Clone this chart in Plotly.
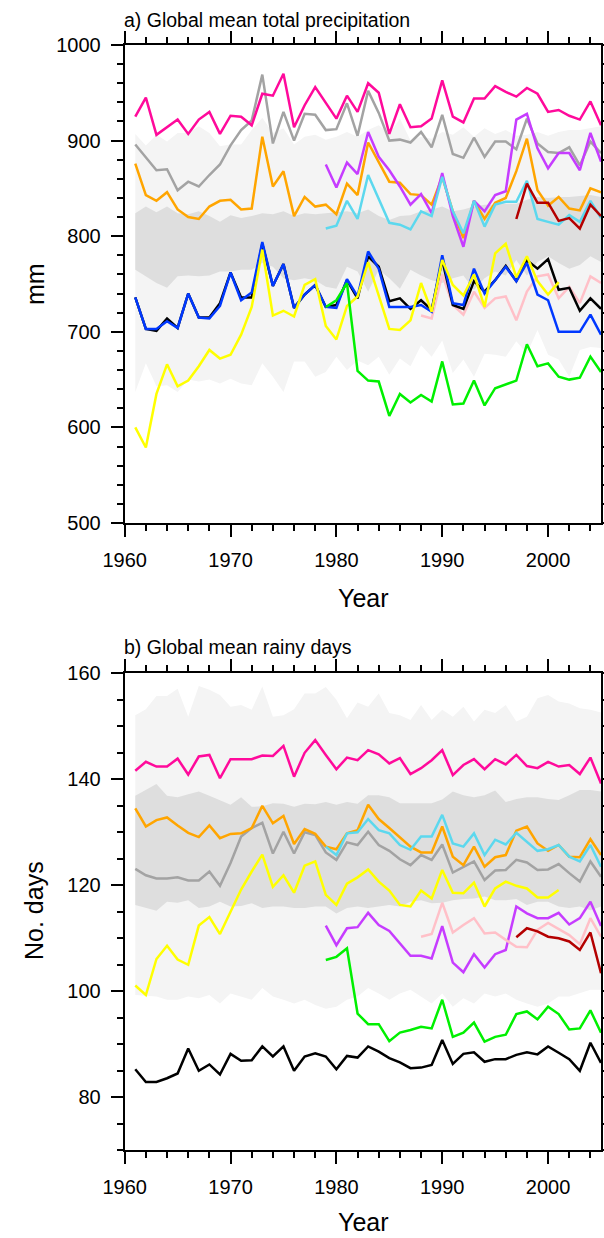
import plotly.graph_objects as go

years = list(range(1961, 2006))
yrs79 = list(range(1979, 2006))
yrs88 = list(range(1988, 2006))
yrs97 = list(range(1997, 2006))
yrs_to01 = list(range(1961, 2002))

# ---------------- Panel a: total precipitation (mm) ----------------
a_magenta = [925, 945, 906, 914, 922, 907, 922, 930, 907, 926, 925, 916, 949, 947, 970, 914, 937, 956, 940, 923,
             947, 930, 960, 950, 907, 938, 914, 915, 923, 963, 925, 919, 944, 944, 957, 951, 946, 955, 949, 930,
             932, 926, 922, 941, 916]
a_gray = [896, 882, 869, 870, 848, 857, 852, 864, 875, 895, 911, 921, 969, 897, 930, 900, 928, 927, 911, 912,
          939, 905, 952, 929, 900, 901, 898, 909, 893, 927, 886, 882, 903, 883, 899, 899, 891, 923, 897, 888,
          887, 893, 874, 899, 887]
a_orange = [876, 843, 837, 846, 828, 820, 818, 831, 837, 838, 828, 829, 904, 852, 868, 821, 841, 831, 833, 823,
            855, 843, 898, 878, 857, 856, 844, 843, 833, 862, 826, 798, 837, 818, 835, 840, 868, 902, 848, 832,
            841, 829, 827, 850, 846]
a_purple = [875, 851, 877, 865, 909, 883, 869, 852, 833, 844, 824, 866, 821, 789, 837, 826, 843, 847, 922, 928,
            892, 871, 887, 887, 869, 908, 878]
a_cyan = [808, 811, 837, 818, 864, 838, 814, 812, 807, 826, 821, 862, 826, 803, 837, 810, 833, 836, 836, 858,
          818, 815, 812, 822, 815, 837, 819]
a_darkred = [818, 855, 835, 835, 816, 819, 808, 833, 821]
a_black = [736, 703, 701, 714, 704, 740, 715, 715, 730, 762, 736, 736, 792, 748, 771, 725, 739, 749, 726, 728,
           754, 735, 779, 768, 732, 735, 724, 733, 723, 775, 728, 724, 753, 742, 754, 769, 753, 775, 766, 776,
           744, 746, 722, 735, 724]
a_blue = [736, 703, 703, 711, 704, 740, 715, 714, 727, 762, 733, 741, 794, 748, 771, 725, 739, 749, 726, 725,
          755, 737, 784, 766, 726, 726, 726, 728, 721, 780, 730, 728, 766, 740, 754, 768, 753, 772, 739, 733,
          700, 700, 700, 718, 697]
a_yellow = [600, 579, 635, 666, 643, 649, 664, 681, 672, 676, 697, 726, 786, 717, 722, 716, 749, 755, 706, 692,
            727, 737, 773, 737, 703, 702, 712, 751, 721, 775, 749, 738, 760, 726, 782, 792, 757, 779, 753, 739,
            752]
a_green = [726, 733, 751, 659, 649, 648, 612, 635, 626, 634, 627, 669, 624, 625, 649, 623, 641, 645, 649, 687,
           664, 667, 653, 650, 652, 674, 658]
a_pink = [717, 714, 760, 728, 718, 742, 725, 735, 737, 712, 742, 758, 760, 735, 747, 730, 758, 751]

# spread bands (mm)
a_light_hi = [907, 895, 906, 899, 908, 908, 915, 908, 894, 896, 896, 911, 924, 908, 913, 896, 904, 906, 901, 904,
              909, 904, 911, 916, 907, 923, 900, 904, 902, 909, 906, 914, 904, 913, 907, 911, 905, 906, 909, 905,
              909, 911, 911, 913, 915]
a_light_lo = [637, 667, 643, 644, 637, 650, 648, 650, 646, 651, 646, 644, 667, 653, 637, 669, 669, 653, 658, 674,
              660, 670, 665, 674, 655, 672, 664, 686, 674, 691, 657, 671, 653, 677, 676, 674, 690, 677, 702, 676,
              671, 653, 681, 684, 683]
a_dark_hi = [824, 831, 825, 831, 824, 823, 826, 821, 815, 822, 819, 821, 824, 823, 826, 821, 824, 823, 824, 825,
             826, 824, 828, 821, 817, 821, 822, 826, 828, 831, 826, 828, 831, 833, 833, 834, 834, 838, 841, 840,
             841, 841, 842, 843, 841]
a_dark_lo = [765, 758, 751, 746, 758, 759, 758, 759, 763, 763, 765, 765, 772, 768, 756, 754, 756, 754, 747, 745,
             768, 763, 742, 765, 756, 745, 765, 759, 754, 751, 756, 759, 744, 756, 763, 759, 775, 759, 773, 779,
             772, 766, 770, 779, 773]

# ---------------- Panel b: rainy days ----------------
b_magenta = [141.6, 143.3, 142.4, 142.4, 143.9, 140.9, 144.3, 144.6, 140.2, 143.8, 143.8, 143.8, 144.5, 144.4, 146.3,
             140.5, 145.0, 147.4, 144.6, 141.9, 144.1, 143.6, 145.5, 144.7, 143.0, 144.0, 141.0, 142.1, 143.6, 145.5,
             140.8, 142.7, 143.8, 141.9, 143.8, 142.8, 144.6, 142.5, 142.1, 143.3, 142.4, 142.7, 141.0, 144.1, 139.2]
b_orange = [134.5, 131.1, 132.3, 132.8, 131.3, 129.9, 129.1, 131.3, 128.9, 129.7, 129.8, 130.8, 135.0, 131.7, 133.1,
            127.8, 130.6, 129.7, 127.3, 126.8, 129.8, 130.4, 135.2, 132.5, 130.8, 129.0, 127.3, 126.2, 126.2, 131.1,
            125.4, 123.8, 127.3, 123.5, 125.3, 125.7, 130.3, 131.1, 127.9, 126.5, 127.6, 125.4, 125.3, 128.7, 125.7]
b_cyan = [127.3, 125.7, 129.8, 130.0, 132.5, 130.4, 129.8, 127.6, 126.7, 129.2, 129.2, 133.3, 127.9, 127.3, 129.8,
          125.7, 128.6, 127.7, 129.9, 128.2, 126.5, 126.8, 127.6, 125.4, 124.5, 127.6, 123.5]
b_gray = [123.1, 121.9, 121.3, 121.3, 121.5, 120.9, 120.9, 122.6, 119.9, 124.2, 129.2, 130.8, 131.8, 126.0, 130.1,
          126.0, 130.0, 129.5, 126.2, 124.8, 128.1, 127.6, 130.1, 127.6, 126.5, 124.9, 123.8, 125.7, 124.8, 127.7,
          122.4, 123.5, 124.5, 121.0, 122.8, 122.9, 124.8, 124.3, 122.9, 123.0, 124.0, 122.3, 120.7, 124.5, 121.6]
b_yellow = [101.1, 99.3, 106.1, 108.6, 106.0, 105.0, 112.4, 114.0, 110.8, 115.0, 119.2, 122.6, 125.8, 119.7, 121.9,
            118.6, 123.7, 124.5, 118.2, 116.3, 120.3, 121.5, 123.0, 120.7, 119.0, 116.3, 116.0, 119.0, 117.5, 122.9,
            118.6, 118.5, 120.5, 116.0, 119.4, 120.7, 119.9, 119.4, 117.7, 117.7, 119.1]
b_purple = [112.4, 108.7, 111.9, 112.1, 114.8, 112.5, 111.4, 109.0, 106.7, 106.7, 106.2, 112.3, 105.4, 103.6, 107.0,
            104.5, 107.0, 107.8, 116.0, 114.7, 113.8, 113.8, 114.8, 112.6, 113.8, 116.9, 112.3]
b_green = [105.9, 106.5, 108.1, 95.8, 93.8, 93.8, 90.6, 92.2, 92.7, 93.3, 93.0, 98.4, 91.4, 92.2, 94.1, 90.5, 91.4,
           91.8, 95.7, 96.2, 94.7, 97.1, 95.7, 92.8, 93.0, 96.4, 92.2]
b_pink = [110.3, 110.8, 116.7, 111.1, 112.5, 113.8, 110.9, 111.1, 109.7, 108.4, 108.3, 111.6, 112.9, 111.7, 110.6,
          108.9, 113.8, 110.3]
b_darkred = [110.2, 111.9, 111.3, 110.3, 110.0, 109.4, 107.8, 111.1, 103.4]
b_black = [85.3, 82.9, 82.9, 83.6, 84.5, 89.2, 85.0, 86.2, 84.3, 88.2, 86.9, 87.0, 89.6, 87.7, 89.6, 85.0, 87.7, 88.3,
           87.7, 85.3, 87.8, 87.5, 89.6, 88.6, 87.4, 86.6, 85.5, 85.6, 86.1, 90.8, 86.3, 88.2, 88.5, 86.7, 87.2, 87.2,
           88.0, 88.5, 88.1, 89.6, 88.4, 87.2, 85.0, 90.3, 86.5]

# spread bands (days)
b_light_hi = [152.1, 153.2, 155.7, 155.7, 157.1, 151.8, 157.6, 156.9, 155.9, 153.7, 154.0, 153.1, 157.5, 151.8,
              152.1, 153.2, 156.2, 156.2, 157.4, 155.0, 151.5, 154.5, 153.7, 156.2, 152.5, 152.1, 151.2, 154.0,
              151.2, 153.1, 151.8, 153.7, 150.9, 153.1, 152.5, 154.0, 150.9, 151.8, 155.3, 155.9, 154.7, 154.3,
              153.4, 153.1, 152.6]
b_dark_hi = [136.9, 138.0, 139.1, 136.9, 136.6, 137.2, 137.7, 136.9, 136.1, 135.2, 136.6, 134.8, 134.9, 135.5, 135.4,
             134.8, 135.4, 135.3, 135.7, 135.2, 135.7, 135.4, 137.0, 137.0, 136.6, 135.5, 135.5, 135.5, 135.5, 136.2,
             137.7, 137.0, 136.6, 137.0, 137.9, 135.7, 136.3, 136.6, 136.6, 136.3, 136.1, 137.0, 138.0, 138.0, 137.7]
b_dark_lo = [116.3, 115.7, 115.2, 116.9, 116.7, 117.2, 115.7, 116.0, 116.9, 116.0, 116.1, 116.6, 115.7, 116.0, 116.0,
             115.7, 115.7, 116.0, 116.0, 114.7, 115.7, 116.0, 115.7, 116.0, 116.3, 116.0, 116.9, 117.2, 116.6, 116.7,
             117.2, 117.4, 117.5, 117.9, 117.2, 117.2, 117.4, 116.3, 116.9, 116.9, 116.0, 115.7, 116.0, 115.3, 116.0]
b_light_lo = [99.3, 99.1, 99.0, 98.4, 98.4, 99.0, 98.7, 99.3, 97.7, 99.6, 99.0, 98.4, 100.6, 99.0, 98.4, 97.7, 98.4,
              97.4, 96.7, 97.1, 98.4, 99.0, 100.6, 99.6, 98.4, 99.6, 100.3, 99.0, 97.7, 99.6, 97.1, 98.7, 97.7, 99.6,
              99.0, 99.6, 98.4, 97.7, 97.1, 97.7, 99.0, 99.0, 99.6, 100.3, 100.3]

C_MAGENTA = "#FF0A9B"
C_GRAY = "#A3A3A3"
C_ORANGE = "#FFA500"
C_PURPLE = "#C63CFF"
C_CYAN = "#5CD8EE"
C_DARKRED = "#B40000"
C_BLACK = "#000000"
C_BLUE = "#0038FF"
C_YELLOW = "#FFFF00"
C_GREEN = "#00F000"
C_PINK = "#FFC0C8"
C_LIGHT = "#F4F4F4"
C_DARK = "#DEDEDE"

fig = go.Figure()


def band(x, lo, hi, color, xa, ya):
    fig.add_trace(go.Scatter(x=x, y=lo, mode="lines", line=dict(width=0, color=color),
                             xaxis=xa, yaxis=ya, showlegend=False, hoverinfo="skip"))
    fig.add_trace(go.Scatter(x=x, y=hi, mode="lines", line=dict(width=0, color=color), fill="tonexty",
                             fillcolor=color, xaxis=xa, yaxis=ya, showlegend=False, hoverinfo="skip"))


def line(x, y, color, xa, ya):
    fig.add_trace(go.Scatter(x=x, y=y, mode="lines", line=dict(color=color, width=2.5),
                             xaxis=xa, yaxis=ya, showlegend=False))


# Panel a
band(years, a_light_lo, a_light_hi, C_LIGHT, "x", "y")
band(years, a_dark_lo, a_dark_hi, C_DARK, "x", "y")
line(years, a_gray, C_GRAY, "x", "y")
line(years, a_magenta, C_MAGENTA, "x", "y")
line(years, a_orange, C_ORANGE, "x", "y")
line(yrs79, a_purple, C_PURPLE, "x", "y")
line(yrs79, a_cyan, C_CYAN, "x", "y")
line(yrs97, a_darkred, C_DARKRED, "x", "y")
line(yrs88, a_pink, C_PINK, "x", "y")
line(years, a_black, C_BLACK, "x", "y")
line(years, a_blue, C_BLUE, "x", "y")
line(yrs_to01, a_yellow, C_YELLOW, "x", "y")
line(yrs79, a_green, C_GREEN, "x", "y")

# Panel b
band(years, b_light_lo, b_light_hi, C_LIGHT, "x2", "y2")
band(years, b_dark_lo, b_dark_hi, C_DARK, "x2", "y2")
line(years, b_gray, C_GRAY, "x2", "y2")
line(years, b_magenta, C_MAGENTA, "x2", "y2")
line(years, b_orange, C_ORANGE, "x2", "y2")
line(yrs79, b_cyan, C_CYAN, "x2", "y2")
line(yrs79, b_purple, C_PURPLE, "x2", "y2")
line(yrs88, b_pink, C_PINK, "x2", "y2")
line(yrs97, b_darkred, C_DARKRED, "x2", "y2")
line(years, b_black, C_BLACK, "x2", "y2")
line(yrs_to01, b_yellow, C_YELLOW, "x2", "y2")
line(yrs79, b_green, C_GREEN, "x2", "y2")

W, H = 604, 1238
FONT = "Liberation Sans, Arial, Helvetica, sans-serif"

xdom = [124.7 / W, 601.0 / W]
ya_dom = [1 - 523.0 / H, 1 - 45.0 / H]
yb_dom = [1 - 1150.3 / H, 1 - 673.3 / H]

axis_common = dict(showline=True, linewidth=2, linecolor="black", mirror="ticks", ticks="outside",
                   ticklen=12, tickwidth=2, tickcolor="black", showgrid=False, zeroline=False,
                   automargin=False, ticklabelstandoff=6,
                   tickfont=dict(family=FONT, size=20, color="black"))

minor_common = dict(ticks="outside", ticklen=6, tickwidth=1.5, tickcolor="black")

fig.update_layout(
    width=W, height=H, margin=dict(l=0, r=0, t=0, b=0, autoexpand=False),
    paper_bgcolor="white", plot_bgcolor="white", showlegend=False,
    xaxis=dict(domain=xdom, range=[1960, 2005], anchor="y", tickvals=[1960, 1970, 1980, 1990, 2000],
               minor=dict(dtick=2, tick0=1960, **minor_common), **axis_common),
    yaxis=dict(domain=ya_dom, range=[500, 1000], anchor="x", tickvals=[500, 600, 700, 800, 900, 1000],
               minor=dict(dtick=20, tick0=500, **minor_common), **axis_common),
    xaxis2=dict(domain=xdom, range=[1960, 2005], anchor="y2", tickvals=[1960, 1970, 1980, 1990, 2000],
                minor=dict(dtick=2, tick0=1960, **minor_common), **axis_common),
    yaxis2=dict(domain=yb_dom, range=[70, 160], anchor="x2", tickvals=[80, 100, 120, 140, 160],
                minor=dict(dtick=5, tick0=70, **minor_common), **axis_common),
)

ann_font = dict(family=FONT, color="black")
anns = [
    dict(text="a) Global mean total precipitation", x=122 / W, y=1 - 20 / H, xanchor="left", yanchor="middle",
         font=dict(size=19.5, **ann_font)),
    dict(text="b) Global mean rainy days", x=122 / W, y=1 - 647 / H, xanchor="left", yanchor="middle",
         font=dict(size=19.5, **ann_font)),
    dict(text="Year", x=363 / W, y=1 - 598 / H, xanchor="center", yanchor="middle",
         font=dict(size=25, **ann_font)),
    dict(text="Year", x=363 / W, y=1 - 1222 / H, xanchor="center", yanchor="middle",
         font=dict(size=25, **ann_font)),
    dict(text="mm", x=35 / W, y=1 - 284 / H, xanchor="center", yanchor="middle", textangle=-90,
         font=dict(size=25, **ann_font)),
    dict(text="No. days", x=34 / W, y=1 - 911 / H, xanchor="center", yanchor="middle", textangle=-90,
         font=dict(size=25, **ann_font)),
]
for a in anns:
    a.update(xref="paper", yref="paper", showarrow=False)
fig.update_layout(annotations=anns)

fig.write_html("out.html")
